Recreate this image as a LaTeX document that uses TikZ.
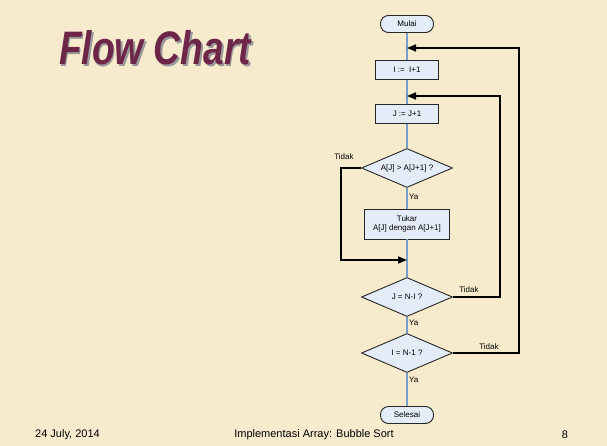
\documentclass[tikz,border=0pt]{standalone}
\usepackage{fontspec}
\setmainfont{Liberation Sans}
\usetikzlibrary{shapes.geometric,arrows.meta}
\definecolor{slidebg}{RGB}{246,235,205}
\definecolor{boxfill}{RGB}{228,236,247}
\definecolor{flowblue}{RGB}{118,158,206}
\definecolor{titlered}{RGB}{110,38,72}
\tikzset{
  terminal/.style={draw=black!85,fill=boxfill,rounded corners=8pt,line width=0.9pt,
    minimum width=53pt,minimum height=17pt,inner sep=0pt,font=\fontsize{8}{9}\selectfont},
  procbox/.style={draw=black!85,fill=boxfill,line width=0.9pt,
    minimum width=63pt,minimum height=19pt,inner sep=0pt,font=\fontsize{8}{9}\selectfont,align=center},
  decision/.style={diamond,draw=black!85,fill=boxfill,line width=0.9pt,aspect=2.3,
    minimum width=91pt,minimum height=39pt,inner sep=0pt,font=\fontsize{8}{9}\selectfont},
  flow/.style={draw=flowblue,line width=1.4pt},
  loopback/.style={draw=black,line width=1.5pt,-{Triangle[length=9pt,width=7pt]}},
  lbl/.style={font=\fontsize{8}{9}\selectfont,inner sep=0pt},
  foot/.style={font=\fontsize{11}{13}\selectfont,inner sep=0pt}
}
% title text with a soft grey drop shadow behind it
\newcommand{\shadowtitle}[1]{%
  \makebox[0pt][l]{\kern2pt\raisebox{-2pt}{\color{black!40}#1}}%
  \textcolor{titlered}{#1}}
\begin{document}
\begin{tikzpicture}[x=1pt,y=-1pt]
  % slide background
  \fill[slidebg] (0,0) rectangle (607,446);
  \useasboundingbox (0,0) rectangle (607,446);

  % title
  \node[anchor=base,xscale=0.79,inner sep=0pt,font=\fontsize{47}{50}\bfseries\itshape] (title) at (155,65) {\shadowtitle{Flow Chart}};

  % flowchart nodes
  \node[terminal] (start) at (407,24) {Mulai};
  \node[procbox] (inci) at (407,70) {I :=\ \ I+1};
  \node[procbox] (incj) at (407,114) {J := J+1};
  \node[decision] (cmp) at (407,168) {A[J] > A[J+1] ?};
  \node[procbox,minimum width=85pt,minimum height=30pt] (swap) at (407,224) {Tukar\\A[J] dengan A[J+1]};
  \node[decision] (endj) at (407,297) {J = N-I ?};
  \node[decision] (endi) at (407,353) {I = N-1 ?};
  \node[terminal] (stop) at (407,415) {Selesai};

  % junctions on the main line
  \coordinate (jI) at (407,48);
  \coordinate (jJ) at (407,96);
  \coordinate (jS) at (407,260);

  % main flow
  \draw[flow] (start) -- (inci);
  \draw[flow] (inci) -- (incj);
  \draw[flow] (incj) -- (cmp);
  \draw[flow] (cmp) -- (swap);
  \draw[flow] (swap) -- (endj);
  \draw[flow] (endj) -- (endi);
  \draw[flow] (endi) -- (stop);

  % back edges
  \draw[loopback] (cmp.west) -- (341,168) -- (341,260) -- (jS);
  \draw[loopback] (endj.east) -- (500,297) -- (500,96) -- (jJ);
  \draw[loopback] (endi.east) -- (519,353) -- (519,48) -- (jI);

  % branch labels
  \node[lbl] (t1) at (344,157) {Tidak};
  \node[lbl,anchor=west] (y1) at (409,197) {Ya};
  \node[lbl] (t2) at (469,290) {Tidak};
  \node[lbl,anchor=west] (y2) at (409,323) {Ya};
  \node[lbl] (t3) at (489,347) {Tidak};
  \node[lbl,anchor=west] (y3) at (409,380) {Ya};

  % footer
  \node[foot,anchor=west] (date) at (35,435) {24 July, 2014};
  \node[foot] (topic) at (314,435) {Implementasi Array: Bubble Sort};
  \node[foot] (page) at (565,435) {8};
\end{tikzpicture}
\end{document}
